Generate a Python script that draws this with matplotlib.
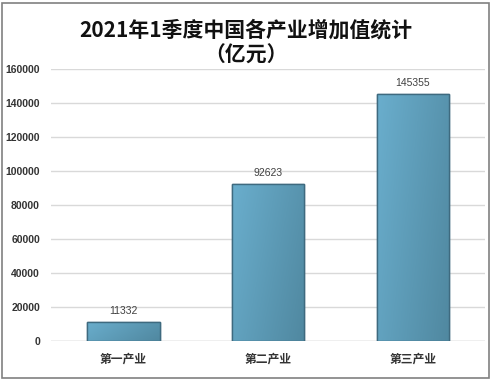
import matplotlib
matplotlib.use("Agg")
import matplotlib.pyplot as plt
import numpy as np
from matplotlib.patches import Rectangle
from matplotlib.colors import LinearSegmentedColormap

plt.rcParams['font.family'] = ['Noto Sans CJK SC', 'DejaVu Sans']

categories = ["第一产业", "第二产业", "第三产业"]
values = [11332, 92623, 145355]
yticks = [0, 20000, 40000, 60000, 80000, 100000, 120000, 140000, 160000]
title_line1 = "2021年1季度中国各产业增加值统计"
title_line2 = "（亿元）"

fig = plt.figure(figsize=(4.92, 3.79), dpi=100)
ax = fig.add_axes([51/492, 1-341/379, (485-51)/492, (341-69)/379])

x = np.arange(len(categories))
bars = ax.bar(x, values, width=0.5, color="#62a0bd", edgecolor="#3e6a7f", linewidth=1.0, zorder=3)

grad = np.linspace(0, 1, 64)
gx, gy = np.meshgrid(grad, grad)
g = (gx * 0.7 + (1 - gy) * 0.3)
cmap = LinearSegmentedColormap.from_list("b", ["#6aaecd", "#5088a0"])
for b in bars:
    x0, y0, w, h = b.get_x(), b.get_y(), b.get_width(), b.get_height()
    im = ax.imshow(g, cmap=cmap, extent=[x0, x0 + w, y0, y0 + h], aspect='auto', zorder=3.5, origin='lower')
    im.set_clip_path(b)
    ax.add_patch(Rectangle((x0, y0), w, h, fill=False, edgecolor="#3e6a7f", linewidth=1.0, zorder=4))

for xi, v in zip(x, values):
    ax.text(xi, v + 3500, str(v), ha='center', va='bottom', fontsize=7.5, color="#404040",
            family=['Liberation Sans'])

ax.set_xlim(-0.5, 2.5)
ax.set_ylim(0, 160000)
ax.set_yticks(yticks)
ax.set_yticklabels([str(t) for t in yticks], fontsize=7.5, color="#333333", fontweight='bold',
                   family=['Liberation Sans'])
ax.set_xticks(x)
ax.set_xticklabels(categories, fontsize=8.5, color="#333333", fontweight='bold')
ax.tick_params(axis='both', length=0)
ax.tick_params(axis='x', pad=8)
ax.tick_params(axis='y', pad=8)
ax.grid(axis='y', color="#d9d9d9", linewidth=1.0, zorder=0)
for s in ax.spines.values():
    s.set_visible(False)
ax.axhline(0, color="#d0d0d0", linewidth=1.0, zorder=2)

fig.text(0.5, 1-30/379, title_line1, ha='center', va='center', fontsize=15, fontweight='bold',
         color="#111111")
fig.text(0.5, 1-55/379, title_line2, ha='center', va='center', fontsize=15, fontweight='bold',
         color="#111111")

fig.add_artist(Rectangle((1.5/492, 1.5/379), 487/492, 375/379, transform=fig.transFigure,
                         fill=False, edgecolor="#808080", linewidth=1.2))

fig.savefig("out.png", dpi=100)
